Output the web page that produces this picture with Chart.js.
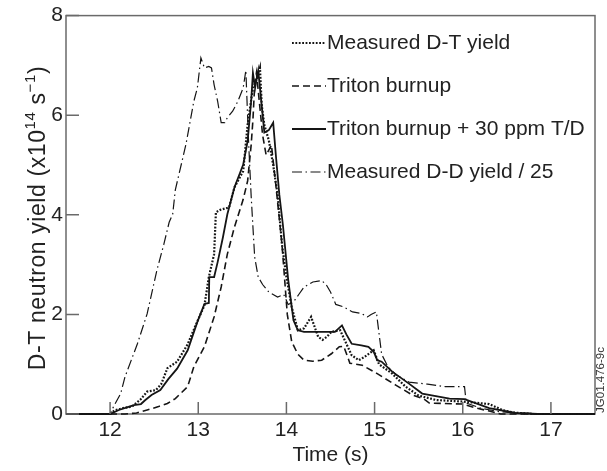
<!DOCTYPE html>
<html>
<head>
<meta charset="utf-8">
<script src="https://cdn.jsdelivr.net/npm/chart.js@4.4.0/dist/chart.umd.min.js"></script>
<style>
  html, body { margin: 0; padding: 0; background: #fff; }
</style>
</head>
<body>
<canvas id="yieldChart" width="607" height="471"></canvas>
<script>
// Tick values
const xTicks = [12, 13, 14, 15, 16, 17];
const yTicks = [0, 2, 4, 6, 8];

// Measured D-T yield (dotted)
const dtTime  = [11.5, 12.0, 12.05, 12.15, 12.25, 12.35, 12.42, 12.52, 12.58, 12.65, 12.76, 12.88, 12.97, 13.07, 13.12, 13.18, 13.2, 13.25, 13.35, 13.41, 13.51, 13.56, 13.62, 13.66, 13.7, 13.72, 13.75, 13.8, 13.85, 13.9, 13.95, 14.0, 14.06, 14.13, 14.2, 14.28, 14.33, 14.36, 14.41, 14.46, 14.51, 14.61, 14.68, 14.74, 14.82, 14.89, 14.99, 15.05, 15.2, 15.35, 15.5, 15.7, 16.0, 16.3, 16.45, 16.57, 16.8, 17.5];
const dtYield = [0, 0, 0.07, 0.12, 0.15, 0.3, 0.45, 0.48, 0.6, 0.92, 1.05, 1.4, 1.78, 2.18, 2.75, 3.21, 4.05, 4.1, 4.15, 4.55, 4.88, 5.81, 6.55, 6.7, 6.95, 6.2, 5.8, 5.5, 5.0, 4.4, 3.4, 2.75, 2.15, 1.68, 1.72, 1.95, 1.7, 1.55, 1.49, 1.55, 1.65, 1.68, 1.41, 1.18, 1.08, 1.15, 1.28, 1.0, 0.81, 0.55, 0.37, 0.28, 0.25, 0.2, 0.08, 0.03, 0, 0];

// Triton burnup (dashed)
const tbTime  = [11.5, 12.17, 12.3, 12.42, 12.55, 12.65, 12.74, 12.88, 12.95, 13.07, 13.18, 13.26, 13.33, 13.41, 13.51, 13.56, 13.6, 13.62, 13.64, 13.66, 13.68, 13.73, 13.77, 13.8, 13.83, 13.88, 13.95, 14.01, 14.06, 14.13, 14.2, 14.3, 14.4, 14.51, 14.6, 14.65, 14.72, 14.86, 15.03, 15.24, 15.43, 15.56, 15.62, 16.0, 16.15, 16.3, 16.43, 17.5];
const tbYield = [0, 0, 0.02, 0.08, 0.15, 0.21, 0.31, 0.55, 0.95, 1.35, 1.95, 2.55, 3.21, 3.75, 4.31, 4.68, 5.4, 5.9, 6.6, 6.85, 6.5, 5.6, 5.2, 5.3, 5.4, 4.6, 3.4, 2.0, 1.45, 1.2, 1.08, 1.06, 1.08, 1.21, 1.35, 1.36, 1.02, 0.98, 0.81, 0.58, 0.38, 0.3, 0.22, 0.2, 0.12, 0.06, 0, 0];

// Triton burnup + 30 ppm T/D (solid)
const tdTime  = [11.5, 12.0, 12.1, 12.2, 12.27, 12.35, 12.4, 12.47, 12.57, 12.66, 12.76, 12.88, 12.99, 13.07, 13.12, 13.125, 13.18, 13.22, 13.28, 13.33, 13.41, 13.51, 13.56, 13.6, 13.62, 13.645, 13.68, 13.75, 13.8, 13.85, 13.88, 13.92, 13.96, 14.02, 14.08, 14.13, 14.2, 14.3, 14.4, 14.55, 14.63, 14.68, 14.74, 14.85, 14.93, 14.99, 15.03, 15.08, 15.2, 15.39, 15.54, 15.85, 16.02, 16.3, 16.6, 16.85, 17.5];
const tdYield = [0, 0, 0.08, 0.14, 0.18, 0.2, 0.28, 0.38, 0.48, 0.7, 0.91, 1.28, 1.85, 2.21, 2.23, 2.75, 2.75, 3.05, 3.55, 4.01, 4.55, 5.01, 5.48, 6.28, 6.85, 6.55, 6.9, 5.65, 5.7, 5.85, 5.2, 4.4, 3.8, 2.7, 1.88, 1.68, 1.65, 1.65, 1.65, 1.65, 1.78, 1.6, 1.41, 1.38, 1.35, 1.25, 1.08, 1.05, 0.85, 0.61, 0.41, 0.31, 0.3, 0.12, 0.02, 0, 0];

// Measured D-D yield / 25 (dash-dot)
const ddTime  = [11.5, 12.0, 12.04, 12.12, 12.17, 12.31, 12.42, 12.53, 12.61, 12.67, 12.71, 12.74, 12.86, 12.95, 12.99, 13.03, 13.07, 13.12, 13.15, 13.18, 13.22, 13.26, 13.3, 13.33, 13.39, 13.45, 13.51, 13.54, 13.57, 13.6, 13.64, 13.68, 13.73, 13.8, 13.9, 13.97, 14.02, 14.08, 14.14, 14.2, 14.3, 14.4, 14.45, 14.5, 14.56, 14.65, 14.75, 14.85, 14.92, 14.96, 15.02, 15.08, 15.15, 15.25, 15.39, 15.6, 15.8, 16.02, 16.04, 16.2, 16.4, 16.6, 17.0, 17.5];
const ddYield = [0, 0, 0.15, 0.41, 0.75, 1.41, 2.01, 2.88, 3.41, 3.85, 4.01, 4.5, 5.41, 6.28, 6.55, 7.15, 6.95, 6.98, 6.95, 6.61, 6.28, 5.85, 5.85, 5.95, 6.08, 6.28, 6.55, 6.9, 5.5, 4.38, 3.15, 2.75, 2.6, 2.45, 2.35, 2.4, 2.2, 2.25, 2.4, 2.55, 2.65, 2.68, 2.6, 2.45, 2.2, 2.15, 2.05, 2.02, 1.95, 2.0, 2.05, 1.2, 0.95, 0.78, 0.64, 0.6, 0.55, 0.55, 0.22, 0.12, 0.05, 0.02, 0, 0];

const FONT = '"Liberation Sans", Arial, sans-serif';
const INK = '#151515';
const TEXT = '#222';

function pts(xs, ys) {
    return xs.map((t, i) => ({ x: t, y: ys[i] }));
}

// y title with real superscripts, drawn rotated
function drawYTitle(ctx, cx, cy, size) {
    const parts = [
        { t: 'D-T neutron yield (x10', sup: false },
        { t: '14', sup: true },
        { t: ' s', sup: false },
        { t: '\u22121', sup: true },
        { t: ')', sup: false }
    ];
    const supSize = Math.round(size * 0.66);
    ctx.save();
    ctx.letterSpacing = '0.6px';
    let total = 0;
    parts.forEach(p => {
        ctx.font = (p.sup ? supSize : size) + 'px ' + FONT;
        p.w = ctx.measureText(p.t).width;
        total += p.w;
    });
    ctx.translate(cx, cy);
    ctx.rotate(-Math.PI / 2);
    ctx.fillStyle = TEXT;
    ctx.textBaseline = 'alphabetic';
    let pos = -total / 2;
    parts.forEach(p => {
        ctx.font = (p.sup ? supSize : size) + 'px ' + FONT;
        ctx.fillText(p.t, pos, p.sup ? -size * 0.42 : 0);
        pos += p.w;
    });
    ctx.restore();
}

// frame, inward ticks, legend and the figure code
const framePlugin = {
    id: 'frame',
    beforeDatasetsDraw(chart) {
        const { ctx, chartArea: a } = chart;
        ctx.save();
        ctx.strokeStyle = '#6a6a6a';
        ctx.lineWidth = 1.5;
        ctx.strokeRect(a.left, a.top, a.right - a.left, a.bottom - a.top);
        ctx.restore();
    },
    afterDatasetsDraw(chart) {
        const { ctx, chartArea: a, scales: { x, y } } = chart;
        ctx.save();
        ctx.strokeStyle = '#6a6a6a';
        ctx.lineWidth = 1.5;
        ctx.beginPath();
        xTicks.forEach(v => {
            const px = x.getPixelForValue(v);
            ctx.moveTo(px, a.bottom);
            ctx.lineTo(px, a.bottom - 12);
        });
        yTicks.forEach(v => {
            const py = y.getPixelForValue(v);
            ctx.moveTo(a.left, py);
            ctx.lineTo(a.left + 13, py);
        });
        ctx.stroke();

        // legend inside the plot
        const rows = [43, 86, 129, 172];
        ctx.font = '21px ' + FONT;
        ctx.textBaseline = 'middle';
        ctx.fillStyle = TEXT;
        chart.data.datasets.forEach((ds, i) => {
            const yy = rows[i];
            ctx.strokeStyle = ds.borderColor;
            ctx.lineWidth = ds.borderWidth;
            ctx.setLineDash(ds.borderDash || []);
            ctx.beginPath();
            ctx.moveTo(292, yy);
            ctx.lineTo(326, yy);
            ctx.stroke();
            ctx.setLineDash([]);
            ctx.fillText(ds.label, 327, yy);
        });
        ctx.restore();

        drawYTitle(ctx, 45, 218, 23);

        // figure code on the right
        ctx.save();
        ctx.translate(601, 380);
        ctx.rotate(-Math.PI / 2);
        ctx.font = '11.5px ' + FONT;
        ctx.textAlign = 'center';
        ctx.textBaseline = 'middle';
        ctx.fillStyle = '#333';
        ctx.fillText('JG01.476-9c', 0, 0);
        ctx.restore();
    }
};

const ctx = document.getElementById('yieldChart');

new Chart(ctx, {
    type: 'line',
    data: {
        datasets: [
            {
                label: 'Measured D-T yield',
                data: pts(dtTime, dtYield),
                borderColor: INK,
                borderWidth: 2.2,
                borderDash: [1.8, 1.6]
            },
            {
                label: 'Triton burnup',
                data: pts(tbTime, tbYield),
                borderColor: INK,
                borderWidth: 1.6,
                borderDash: [7, 4]
            },
            {
                label: 'Triton burnup + 30 ppm T/D',
                data: pts(tdTime, tdYield),
                borderColor: INK,
                borderWidth: 1.8
            },
            {
                label: 'Measured D-D yield / 25',
                data: pts(ddTime, ddYield),
                borderColor: INK,
                borderWidth: 1.2,
                borderDash: [10, 3.5, 1.5, 3.5]
            }
        ]
    },
    options: {
        responsive: false,
        animation: false,
        parsing: false,
        elements: {
            point: { radius: 0 },
            line: { tension: 0, borderCapStyle: 'butt' }
        },
        datasets: { line: { clip: 4 } },
        layout: { padding: { top: 14, right: 12, left: 0, bottom: 0 } },
        scales: {
            x: {
                type: 'linear',
                min: 11.5,
                max: 17.5,
                afterBuildTicks: s => { s.ticks = xTicks.map(v => ({ value: v })); },
                afterFit: s => { s.height = 57; },
                grid: { display: false, drawTicks: false },
                border: { display: false },
                ticks: { color: TEXT, font: { family: FONT, size: 21 }, padding: 4 },
                title: {
                    display: true,
                    text: 'Time (s)',
                    color: TEXT,
                    font: { family: FONT, size: 21 },
                    padding: { top: 0, bottom: 3 }
                }
            },
            y: {
                min: 0,
                max: 8,
                afterBuildTicks: s => { s.ticks = yTicks.map(v => ({ value: v })); },
                afterFit: s => { s.width = 66; },
                grid: { display: false, drawTicks: false },
                border: { display: false },
                ticks: { color: TEXT, font: { family: FONT, size: 21 }, padding: 3 },
                title: { display: false }
            }
        },
        plugins: {
            legend: { display: false },
            tooltip: { enabled: false }
        }
    },
    plugins: [framePlugin]
});
</script>
</body>
</html>
